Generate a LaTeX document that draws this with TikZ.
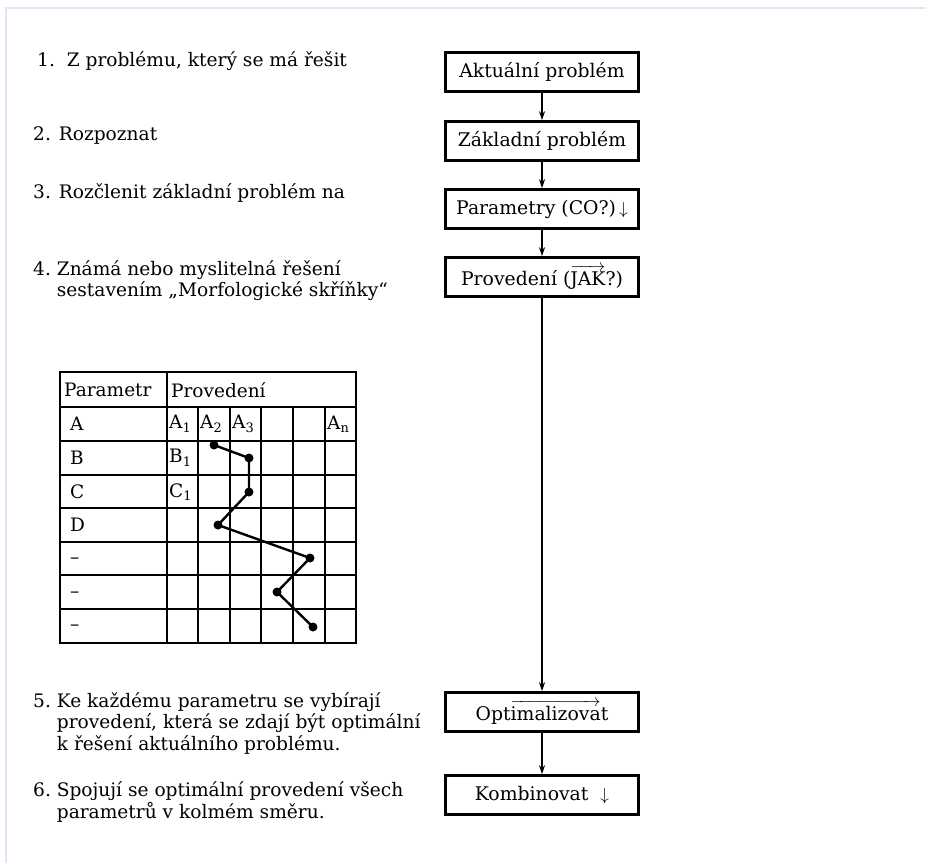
\documentclass[tikz,border=0pt]{standalone}
\usepackage{amsmath}
\usepackage{fontspec}
\setmainfont{DejaVu Serif}
\usepackage{tikz}
\usetikzlibrary{arrows.meta,positioning}
\definecolor{pageedge}{HTML}{E6E2F6}

\begin{document}
\begin{tikzpicture}[x=1pt, y=-1pt]
  % Styles
  \tikzstyle{stepbox} = [rectangle, draw, line width=2.6pt, minimum width=193pt, minimum height=39pt, inner sep=0pt, font=\fontsize{18.8}{21}\selectfont]
  \tikzstyle{item} = [anchor=base west, inner sep=0pt, align=left, font=\fontsize{18.6}{21.5}\selectfont]
  \tikzstyle{connection} = [line width=1.3pt, -{Stealth[length=9pt, width=6pt]}]
  \tikzstyle{cell} = [anchor=west, inner sep=0pt, font=\fontsize{18.5}{20}\selectfont]
  \tikzstyle{gridline} = [line width=1.4pt]
  \tikzstyle{frame} = [line width=2.6pt]
  \tikzstyle{choice} = [line width=2.4pt]
  \tikzstyle{dot} = [circle, fill, inner sep=0pt, minimum size=9pt]

  \path[use as bounding box] (0,0) rectangle (925,863);
  % Page edge
  \draw[pageedge, line width=1.5pt] (6,863) -- (6,8) -- (925,8);

  % Flow boxes
  \node[stepbox] (aktualni) at (542,72) {Aktuální problém};
  \node[stepbox] (zakladni) at (542,141) {Základní problém};
  \node[stepbox] (parametry) at (542,209) {Parametry (CO?)\,$\downarrow$};
  \node[stepbox] (provedeni) at (542,277) {Provedení (\(\overrightarrow{\text{JAK}}\)?)};
  \node[stepbox] (optim) at (542,712) {Opt\(\overrightarrow{\text{imalizova}}\)t};
  \node[stepbox] (kombin) at (542,795) {Kombinovat \ $\downarrow$};

  % Connection Lines
  \draw[connection] (aktualni) -- (zakladni);
  \draw[connection] (zakladni) -- (parametry);
  \draw[connection] (parametry) -- (provedeni);
  \draw[connection] (provedeni) -- (optim);
  \draw[connection] (optim) -- (kombin);

  % Steps
  \node[item] (krok1) at (37,66) {1.\ \ Z problému, který se má řešit};
  \node[item] (krok2) at (33,140) {2. Rozpoznat};
  \node[item] (krok3) at (33,198) {3. Rozčlenit základní problém na};
  \node[item] (krok4) at (33,275) {\begin{tabular}[t]{@{}l@{\ }l@{}}4. & Známá nebo myslitelná řešení\\ & sestavením „Morfologické skříňky“\end{tabular}};
  \node[item] (krok5) at (33,707) {\begin{tabular}[t]{@{}l@{\ }l@{}}5. & Ke každému parametru se vybírají\\ & provedení, která se zdají být optimální\\ & k řešení aktuálního problému.\end{tabular}};
  \node[item] (krok6) at (33,796) {\begin{tabular}[t]{@{}l@{\ }l@{}}6. & Spojují se optimální provedení všech\\ & parametrů v kolmém směru.\end{tabular}};

  % Morphological box
  \draw[gridline] (60,441) -- (356,441);
  \draw[gridline] (60,475) -- (356,475);
  \draw[gridline] (60,508) -- (356,508);
  \draw[gridline] (60,542) -- (356,542);
  \draw[gridline] (60,575) -- (356,575);
  \draw[gridline] (60,609) -- (356,609);
  \draw[gridline] (198,407) -- (198,643);
  \draw[gridline] (230,407) -- (230,643);
  \draw[gridline] (261,407) -- (261,643);
  \draw[gridline] (293,407) -- (293,643);
  \draw[gridline] (325,407) -- (325,643);
  \draw[frame] (60,407) -- (356,407);
  \draw[frame] (167,372) -- (167,643);
  \draw[frame] (60,372) rectangle (356,643);

  % Header and labels
  \node[cell] (hparam) at (64,390) {Parametr};
  \node[cell] (hprov) at (171,390) {Provedení};
  \node[cell] (ra) at (70,424) {A};
  \node[cell] (rb) at (70,458) {B};
  \node[cell] (rc) at (70,492) {C};
  \node[cell] (rd) at (70,525) {D};
  \node[cell] (re) at (70,561) {–};
  \node[cell] (rf) at (70,595) {–};
  \node[cell] (rg) at (70,628) {–};
  \node[cell] (a1) at (169,424) {A\textsubscript{1}};
  \node[cell] (a2) at (200,424) {A\textsubscript{2}};
  \node[cell] (a3) at (232,424) {A\textsubscript{3}};
  \node[cell] (an) at (327,424) {A\textsubscript{n}};
  \node[cell] (b1) at (169,458) {B\textsubscript{1}};
  \node[cell] (c1) at (169,492) {C\textsubscript{1}};

  % Chosen variants
  \coordinate (v1) at (214,445);
  \coordinate (v2) at (249,458);
  \coordinate (v3) at (249,492);
  \coordinate (v4) at (218,525);
  \coordinate (v5) at (310,558);
  \coordinate (v6) at (277,592);
  \coordinate (v7) at (313,627);
  \draw[choice] (v1) -- (v2) -- (v3) -- (v4) -- (v5) -- (v6) -- (v7);
  \node[dot] at (v1) {};
  \node[dot] at (v2) {};
  \node[dot] at (v3) {};
  \node[dot] at (v4) {};
  \node[dot] at (v5) {};
  \node[dot] at (v6) {};
  \node[dot] at (v7) {};

\end{tikzpicture}
\end{document}
